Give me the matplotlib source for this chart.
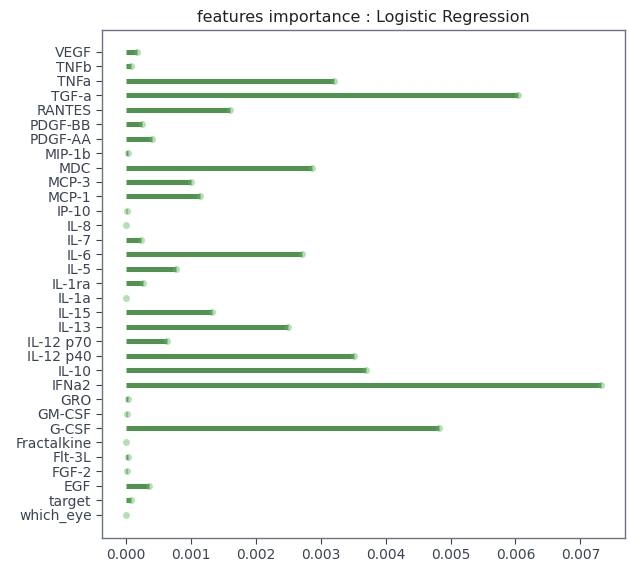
import matplotlib
matplotlib.use("Agg")
import matplotlib.pyplot as plt
import numpy as np

# Feature names, listed bottom to top as drawn on the y axis
features = ['which_eye', 'target', 'EGF', 'FGF-2', 'Flt-3L', 'Fractalkine',
            'G-CSF', 'GM-CSF', 'GRO', 'IFNa2', 'IL-10', 'IL-12 p40',
            'IL-12 p70', 'IL-13', 'IL-15', 'IL-1a', 'IL-1ra', 'IL-5', 'IL-6',
            'IL-7', 'IL-8', 'IP-10', 'MCP-1', 'MCP-3', 'MDC', 'MIP-1b',
            'PDGF-AA', 'PDGF-BB', 'RANTES', 'TGF-a', 'TNFa', 'TNFb', 'VEGF']

# Absolute coefficient importance of each feature
importance = [0.0, 0.000085, 0.00035, 0.00002, 0.00003, 0.0,
              0.00482, 0.000023, 0.000034, 0.00732, 0.0037, 0.00352,
              0.00064, 0.0025, 0.001335, 0.0, 0.00027, 0.00078, 0.00272,
              0.00024, 0.00001, 0.000013, 0.00114, 0.00101, 0.00286, 0.000034,
              0.00041, 0.00025, 0.00161, 0.006045, 0.0032, 0.00008, 0.00018]

text_color = '#3b4452'

fig = plt.figure(figsize=(6.29, 5.62), dpi=100)
ax = fig.add_axes([0.1622, 0.0427, 0.8314, 0.9039])

pos = np.arange(len(features))
ax.hlines(y=pos, xmin=0, xmax=importance, color='#327f32', alpha=0.85,
          linewidth=3.6)
ax.plot(importance, pos, 'o', color='#5cb85c', alpha=0.45, markersize=5,
        markeredgewidth=0)

ax.set_yticks(pos)
ax.set_yticklabels(features)
ax.set_ylim(-1.6, len(features) + 0.5)
ax.set_xticks([0.000, 0.001, 0.002, 0.003, 0.004, 0.005, 0.006, 0.007])
ax.set_xticklabels(['0.000', '0.001', '0.002', '0.003', '0.004', '0.005',
                    '0.006', '0.007'])

ax.tick_params(axis='both', labelsize=10, colors=text_color, length=4,
               width=0.8)
for side in ax.spines.values():
    side.set_color('#6b7280')
    side.set_linewidth(1.0)

ax.set_title('features importance : Logistic Regression', fontsize=11.5,
             color='#222222', pad=6)

fig.savefig('out.png', dpi=100)
